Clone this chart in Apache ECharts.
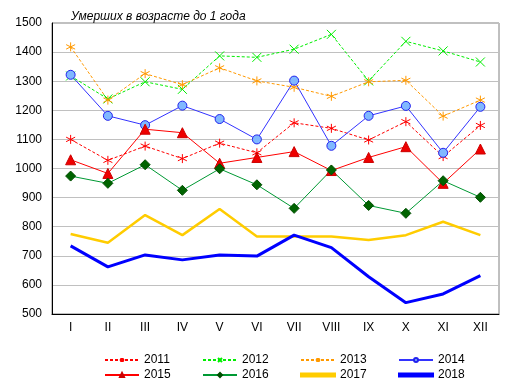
<!DOCTYPE html>
<html><head><meta charset="utf-8">
<script src="https://cdn.jsdelivr.net/npm/echarts@6/dist/echarts.min.js"></script>
<style>html,body{margin:0;padding:0;background:#fff}#c{width:514px;height:392px}</style>
</head><body><div id="c"></div>
<script>
const categories = ['I','II','III','IV','V','VI','VII','VIII','IX','X','XI','XII'];
const yTicks = [500,600,700,800,900,1000,1100,1200,1300,1400,1500];
const titleText = 'Умерших в возрасте до 1 года';
const s2011 = [1100,1028,1077,1034,1087,1054,1157,1138,1098,1161,1041,1148];
const s2012 = [1318,1239,1298,1272,1387,1382,1410,1461,1301,1437,1404,1366];
const s2013 = [1418,1235,1326,1288,1346,1301,1279,1248,1298,1303,1180,1235];
const s2014 = [1322,1181,1149,1216,1170,1100,1302,1078,1181,1215,1054,1212];
const s2015 = [1030,983,1135,1123,1018,1038,1058,993,1038,1075,949,1067];
const s2016 = [974,949,1013,925,999,944,863,995,873,846,958,901];
const s2017 = [775,745,840,771,861,766,766,766,754,771,817,771];
const s2018 = [734,662,703,686,703,699,771,728,628,539,569,632];

const asterisk = 'path://M5,0L5,10M0.7,2.5L9.3,7.5M0.7,7.5L9.3,2.5';
const cross = 'path://M0,0L10,10M0,10L10,0';

function mk(name, data, o) {
  return {
    name, type:'line', data, animation:false,
    lineStyle:{width:o.w||1, color:o.color, type:o.dash?[3,2]:'solid'},
    itemStyle:{color:o.fill||o.color, borderColor:o.border||o.color, borderWidth:o.bw||1},
    symbol:o.symbol||'none', symbolSize:o.size||8, showSymbol:!!o.symbol
  };
}
const series = [
  mk('2011', s2011, {color:'#ff0000', dash:true, symbol:asterisk, size:9, fill:'rgba(0,0,0,0)'}),
  mk('2012', s2012, {color:'#00ee00', dash:true, symbol:cross, size:9, fill:'rgba(0,0,0,0)'}),
  mk('2013', s2013, {color:'#ff9900', dash:true, symbol:asterisk, size:9, fill:'rgba(0,0,0,0)'}),
  mk('2014', s2014, {color:'#3333ff', symbol:'circle', size:9, fill:'#80b8ff', border:'#2222ee'}),
  mk('2015', s2015, {color:'#ff0000', symbol:'triangle', size:10, fill:'#ee0000', border:'#cc0000'}),
  mk('2016', s2016, {color:'#009933', symbol:'diamond', size:10, fill:'#006400', border:'#004d00'}),
  mk('2017', s2017, {color:'#ffcc00', w:2.5}),
  mk('2018', s2018, {color:'#0000ff', w:3})
];

const legendText = {fontFamily:'Liberation Sans, Arial', fontSize:12, color:'#000'};
const legendLefts = [99,197,295,393];
const legendTops = [349,364];
const legends = series.map((s,i) => {
  const L = {data:[s.name], left:legendLefts[i%4], top:legendTops[Math.floor(i/4)],
    itemWidth:34, itemHeight:5, itemGap:0, textStyle:legendText, selectedMode:false};
  if (i>=6) { L.data = [{name:s.name, icon:'rect'}]; L.itemHeight = 3; }
  return L;
});

const chart = echarts.init(document.getElementById('c'), null, {renderer:'canvas'});
chart.setOption({
  backgroundColor:'#fff',
  title:{text:titleText, left:66, top:6, textStyle:{fontFamily:'Liberation Sans, Arial', fontSize:12, fontStyle:'italic', fontWeight:'normal', color:'#000'}},
  grid:{left:52, top:23, right:15, bottom:78, show:true, borderColor:'#808080', borderWidth:1},
  legend:legends,
  xAxis:{type:'category', data:categories, boundaryGap:true,
    axisLine:{lineStyle:{color:'#000'}}, axisTick:{show:false},
    axisLabel:{fontFamily:'Liberation Sans, Arial', fontSize:12, color:'#000', margin:8}},
  yAxis:{type:'value', min:yTicks[0], max:yTicks[yTicks.length-1], interval:100,
    axisLine:{show:true, lineStyle:{color:'#000'}}, axisTick:{show:false},
    splitLine:{lineStyle:{color:'#c0c0c0'}},
    axisLabel:{fontFamily:'Liberation Sans, Arial', fontSize:12, color:'#000', margin:10, formatter:v=>String(v)}},
  series
});
</script></body></html>
